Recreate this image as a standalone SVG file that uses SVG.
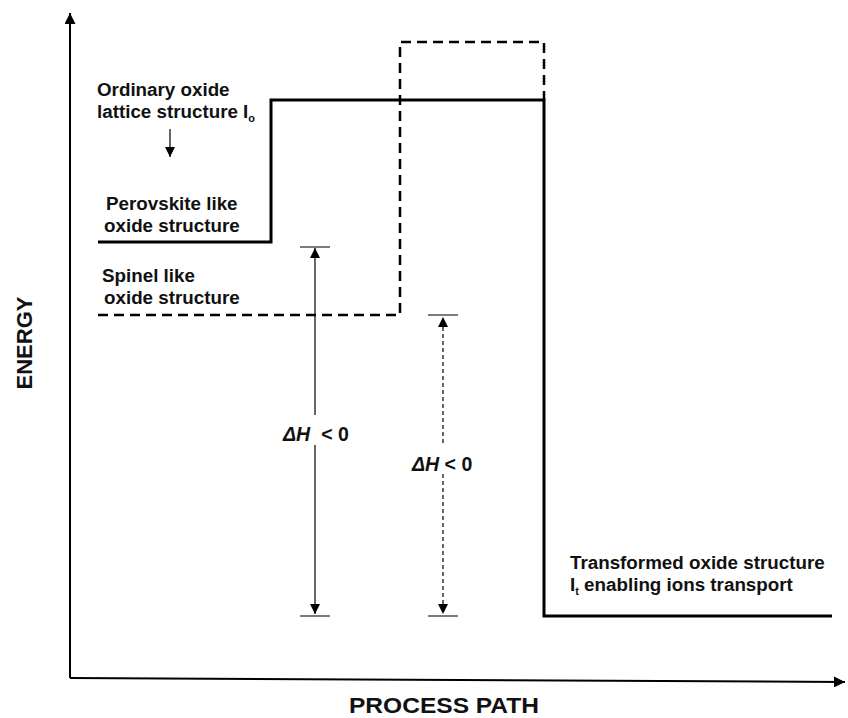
<svg xmlns="http://www.w3.org/2000/svg" width="848" height="718" viewBox="0 0 848 718">
<style>
text{font-family:"Liberation Sans",Arial,sans-serif;font-weight:bold;fill:#111}
.lbl{font-size:18.8px}
.ax{font-size:22px}
.dh{font-size:19.5px}
.sol{fill:none;stroke:#000;stroke-width:3}
.dsh{fill:none;stroke:#000;stroke-width:2.5;stroke-dasharray:10,6}
.axis{fill:none;stroke:#000;stroke-width:2}
.dim{fill:none;stroke:#000;stroke-width:1.2}
.tick{fill:none;stroke:#333;stroke-width:1.3}
</style>
<defs>
<marker id="ah" viewBox="0 0 10 10" refX="10" refY="5" markerWidth="10" markerHeight="10" markerUnits="userSpaceOnUse" orient="auto-start-reverse">
<path d="M0,0 L10,5 L0,10 z" fill="#000"/>
</marker>
<marker id="axh" viewBox="0 0 10 10" refX="10" refY="5" markerWidth="11" markerHeight="11" markerUnits="userSpaceOnUse" orient="auto">
<path d="M0,0 L10,5 L0,10 z" fill="#000"/>
</marker>
</defs>
<g id="axes">
<line class="axis" x1="70" y1="678" x2="70" y2="13" marker-end="url(#axh)"/>
<line class="axis" x1="70" y1="678" x2="845" y2="682" marker-end="url(#axh)"/>
<text class="ax" transform="translate(32,343) rotate(-90)" text-anchor="middle">ENERGY</text>
<text class="ax" x="349" y="713" textLength="190" lengthAdjust="spacingAndGlyphs">PROCESS PATH</text>
</g>
<g id="connectors">
<polyline id="perovskite-path" class="sol" points="98,242 271,242 271,100 544,100 544,616 832,616"/>
<polyline id="spinel-path" class="dsh" points="98,315 400,315 400,42 544,42 544,100"/>
<line class="dim" x1="315" y1="415" x2="315" y2="248" marker-end="url(#ah)"/>
<line class="dim" x1="315" y1="445" x2="315" y2="614" marker-end="url(#ah)"/>
<line class="tick" x1="300" y1="247" x2="330" y2="247"/>
<line class="tick" x1="300" y1="616" x2="330" y2="616"/>
<line class="dim" x1="443" y1="443" x2="443" y2="317" stroke-dasharray="4,3" marker-end="url(#ah)"/>
<line class="dim" x1="443" y1="474" x2="443" y2="614" stroke-dasharray="4,3" marker-end="url(#ah)"/>
<line class="tick" x1="428" y1="315" x2="458" y2="315"/>
<line class="tick" x1="428" y1="616" x2="458" y2="616"/>
<line class="dim" x1="170" y1="129" x2="170" y2="157" stroke-width="1.5" marker-end="url(#ah)"/>
</g>
<g id="node-ordinary">
<text class="lbl" x="97" y="96">Ordinary oxide</text>
<text class="lbl" x="97" y="118">lattice structure I<tspan font-size="11" dy="4">o</tspan></text>
</g>
<g id="node-perovskite">
<text class="lbl" x="106" y="210">Perovskite like</text>
<text class="lbl" x="104" y="232">oxide structure</text>
</g>
<g id="node-spinel">
<text class="lbl" x="102" y="282">Spinel like</text>
<text class="lbl" x="104" y="304">oxide structure</text>
</g>
<g id="node-dh1">
<text class="dh" x="283" y="441"><tspan font-style="italic">ΔH</tspan><tspan dx="11">&lt; 0</tspan></text>
</g>
<g id="node-dh2">
<text class="dh" x="412" y="471"><tspan font-style="italic">ΔH</tspan> &lt; 0</text>
</g>
<g id="node-transformed">
<text class="lbl" x="570" y="569">Transformed oxide structure</text>
<text class="lbl" x="570" y="591">I<tspan font-size="11" dy="4">t</tspan><tspan dy="-4"> enabling ions transport</tspan></text>
</g>
</svg>
